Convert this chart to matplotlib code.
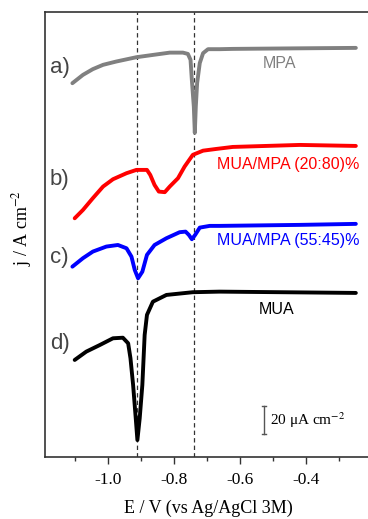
import matplotlib
matplotlib.use("Agg")
import matplotlib.pyplot as plt

plt.rcParams['axes.unicode_minus'] = False

# Potential E (V vs Ag/AgCl) and current density (uA cm^-2, offset for display)
E_a = [-1.107, -1.075, -1.045, -1.014, -0.974, -0.913, -0.863, -0.812, -0.772, -0.757,
       -0.749, -0.745, -0.739, -0.736, -0.733, -0.729, -0.721, -0.711, -0.696, -0.661,
       -0.621, -0.418, -0.248]
j_a = [260.4, 266.2, 270.2, 273.2, 275.5, 278.5, 280.1, 281.7, 281.7, 280.8,
       276.7, 262.7, 244.1, 225.8, 244.1, 260.4, 274.4, 281.3, 284.1, 284.1,
       284.3, 284.7, 285.0]

E_b = [-1.100, -1.075, -1.045, -1.014, -0.984, -0.943, -0.913, -0.881, -0.871, -0.858,
       -0.845, -0.827, -0.812, -0.787, -0.767, -0.742, -0.711, -0.671, -0.621, -0.418,
       -0.248]
j_b = [166.3, 172.1, 180.3, 188.4, 193.5, 197.7, 200.0, 200.0, 196.5, 189.5,
       184.9, 184.5, 188.4, 194.2, 202.3, 210.5, 213.4, 214.6, 216.0, 217.4,
       216.7]

E_c = [-1.107, -1.075, -1.045, -1.004, -0.969, -0.943, -0.928, -0.918, -0.908, -0.895,
       -0.881, -0.858, -0.822, -0.782, -0.764, -0.754, -0.745, -0.735, -0.721, -0.691,
       -0.661, -0.418, -0.248]
j_c = [132.6, 138.5, 143.1, 146.6, 147.7, 145.4, 139.6, 130.3, 124.5, 129.1,
       140.8, 147.7, 152.4, 156.6, 157.0, 154.7, 151.7, 154.7, 159.8, 161.0,
       161.0, 161.7, 162.4]

E_d = [-1.100, -1.065, -1.024, -0.984, -0.954, -0.938, -0.931, -0.923, -0.915, -0.910,
       -0.903, -0.895, -0.888, -0.881, -0.863, -0.822, -0.742, -0.661, -0.248]
j_d = [67.6, 73.4, 78.0, 82.7, 83.1, 79.2, 68.8, 50.2, 27.0, 11.8,
       27.0, 50.2, 85.0, 99.0, 108.2, 112.9, 114.8, 115.2, 114.3]

peak_lines = [-0.912, -0.739]
curve_labels = ["a)", "b)", "c)", "d)"]
names = ["MPA", "MUA/MPA (20:80)%", "MUA/MPA (55:45)%", "MUA"]
colors = ["#808080", "#ff0000", "#0000ff", "#000000"]
xticks = [-1.0, -0.8, -0.6, -0.4]
xminor = [-1.1, -0.9, -0.7, -0.5, -0.3]
scale_E = -0.527
scale_j = [16.0, 35.5]

W, H = 368, 519
fig = plt.figure(figsize=(W / 100, H / 100), dpi=100)
ax = fig.add_axes([45 / W, (H - 457) / H, (1.01 - 45 / W), 445 / H])

for E, j, c in zip([E_a, E_b, E_c, E_d], [j_a, j_b, j_c, j_d], colors):
    ax.plot(E, j, color=c, lw=2.8, solid_joinstyle='round', solid_capstyle='round')

for xv in peak_lines:
    ax.axvline(xv, color='#333333', lw=0.9, ls=(0, (3.5, 2.5)), zorder=0)

ax.set_xlim(-1.19, -0.2)
ax.set_ylim(0, 310)
ax.set_yticks([])
ax.set_xticks(xticks)
ax.set_xticklabels([f"{v:.1f}" for v in xticks], family='Liberation Serif', fontsize=12.5)
ax.set_xticks(xminor, minor=True)
ax.tick_params(axis='x', which='major', direction='out', length=5, width=1, color='#333333', pad=6)
ax.tick_params(axis='x', which='minor', direction='out', length=3, width=1, color='#333333')
for s in ['left', 'bottom', 'top']:
    ax.spines[s].set_color('#333333')
    ax.spines[s].set_linewidth(1.2)
ax.spines['right'].set_visible(False)

ax.set_xlabel("E / V (vs Ag/AgCl 3M)", family='Liberation Serif', fontsize=13, labelpad=8)
fig.text(22 / W, 1 - 228 / H, "j / A cm$^{\\mathrm{-2}}$", rotation=90, ha='center', va='center',
         family='Liberation Serif', fontsize=13, math_fontfamily='stix')

# curve letters
for lab, yp in zip(curve_labels, [68, 179, 258, 343]):
    fig.text(50 / W, 1 - yp / H, lab, ha='left', va='center', family='Liberation Sans',
             fontsize=16, color='#444444')

# curve names
name_pos = [(280, 63, 'center'), (217, 164, 'left'), (217, 241, 'left'), (277, 310, 'center')]
for nm, (xp, yp, ha), c in zip(names, name_pos, colors):
    fig.text(xp / W, 1 - yp / H, nm, ha=ha, va='center', family='Liberation Sans',
             fontsize=11.5, color=c)

# scale bar
ax.plot([scale_E, scale_E], scale_j, color='#555555', lw=1)
for yv in scale_j:
    ax.plot([scale_E - 0.006, scale_E + 0.006], [yv, yv], color='#555555', lw=1)
fig.text(270 / W, 1 - 420 / H, "20 μA cm$^{\\mathrm{-2}}$", ha='left', va='center',
         family='Liberation Serif', fontsize=11, math_fontfamily='stix')

fig.savefig("out.png", dpi=100)
